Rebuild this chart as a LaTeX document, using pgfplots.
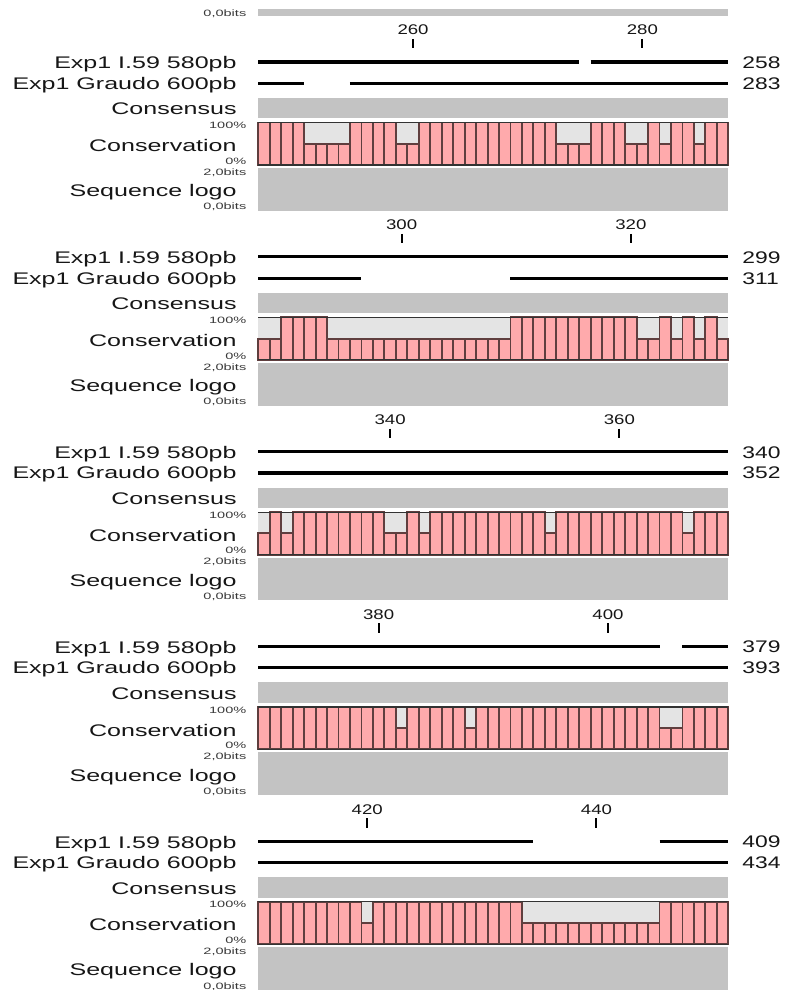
\documentclass[border=0pt]{standalone}
\usepackage{pgfplots}
\pgfplotsset{compat=1.18}
\usepackage{pgfplotstable}
\usepackage{graphicx}
\usepackage{fontspec}
\setmainfont{Liberation Sans}

\definecolor{consgrey}{RGB}{195,195,195}
\definecolor{consbg}{RGB}{228,228,228}
\definecolor{barpink}{RGB}{255,170,172}
\definecolor{bardark}{RGB}{95,62,62}
\definecolor{labtext}{RGB}{22,22,22}

% conservation (%) per alignment column
\pgfplotstableread[row sep=\\]{x c\\247 100\\248 100\\249 100\\250 100\\251 50\\252 50\\253 50\\254 50\\255 100\\256 100\\257 100\\258 100\\259 50\\260 50\\261 100\\262 100\\263 100\\264 100\\265 100\\266 100\\267 100\\268 100\\269 100\\270 100\\271 100\\272 100\\273 50\\274 50\\275 50\\276 100\\277 100\\278 100\\279 50\\280 50\\281 100\\282 50\\283 100\\284 100\\285 50\\286 100\\287 100\\}\consA
\pgfplotstableread[row sep=\\]{x c\\288 50\\289 50\\290 100\\291 100\\292 100\\293 100\\294 50\\295 50\\296 50\\297 50\\298 50\\299 50\\300 50\\301 50\\302 50\\303 50\\304 50\\305 50\\306 50\\307 50\\308 50\\309 50\\310 100\\311 100\\312 100\\313 100\\314 100\\315 100\\316 100\\317 100\\318 100\\319 100\\320 100\\321 50\\322 50\\323 100\\324 50\\325 100\\326 50\\327 100\\328 50\\}\consB
\pgfplotstableread[row sep=\\]{x c\\329 50\\330 100\\331 50\\332 100\\333 100\\334 100\\335 100\\336 100\\337 100\\338 100\\339 100\\340 50\\341 50\\342 100\\343 50\\344 100\\345 100\\346 100\\347 100\\348 100\\349 100\\350 100\\351 100\\352 100\\353 100\\354 50\\355 100\\356 100\\357 100\\358 100\\359 100\\360 100\\361 100\\362 100\\363 100\\364 100\\365 100\\366 50\\367 100\\368 100\\369 100\\}\consC
\pgfplotstableread[row sep=\\]{x c\\370 100\\371 100\\372 100\\373 100\\374 100\\375 100\\376 100\\377 100\\378 100\\379 100\\380 100\\381 100\\382 50\\383 100\\384 100\\385 100\\386 100\\387 100\\388 50\\389 100\\390 100\\391 100\\392 100\\393 100\\394 100\\395 100\\396 100\\397 100\\398 100\\399 100\\400 100\\401 100\\402 100\\403 100\\404 100\\405 50\\406 50\\407 100\\408 100\\409 100\\410 100\\}\consD
\pgfplotstableread[row sep=\\]{x c\\411 100\\412 100\\413 100\\414 100\\415 100\\416 100\\417 100\\418 100\\419 100\\420 50\\421 100\\422 100\\423 100\\424 100\\425 100\\426 100\\427 100\\428 100\\429 100\\430 100\\431 100\\432 100\\433 100\\434 50\\435 50\\436 50\\437 50\\438 50\\439 50\\440 50\\441 50\\442 50\\443 50\\444 50\\445 50\\446 100\\447 100\\448 100\\449 100\\450 100\\451 100\\}\consE

\pgfplotsset{
  blk/.style={width=393.5pt, scale only axis, hide axis, clip=false, ymin=-45.8, anchor=north west},
  bars/.style={ybar, bar width=1, fill=barpink, draw=bardark, line width=0.95pt},
  seq/.style={black, line width=1.6pt, unbounded coords=jump, mark=none},
}
\tikzset{
  lab/.style={anchor=base east, inner sep=0pt, text=labtext, font=\fontsize{8.4}{10}\selectfont},
  sml/.style={anchor=base east, inner sep=0pt, text=labtext!85, font=\fontsize{4.6}{5}\selectfont},
  rul/.style={anchor=base, inner sep=0pt, text=labtext, font=\fontsize{7}{8}\selectfont},
  rnum/.style={anchor=base west, inner sep=0pt, text=labtext, font=\fontsize{8.4}{10}\selectfont},
}
\newcommand\SLab[1]{\scalebox{1.49}[1]{#1}}
\newcommand\SSml[1]{\scalebox{1.58}[1]{#1}}
\newcommand\SRul[1]{\scalebox{1.33}[1]{#1}}
\newcommand\SNum[1]{\scalebox{1.36}[1]{#1}}

\newcommand\blockbg[1]{%
  \fill[consgrey] (axis cs:{#1-0.5},46.5) rectangle (axis cs:{#1+40.5},67);
  \fill[consbg] (axis cs:{#1-0.5},0) rectangle (axis cs:{#1+40.5},42.5);
  \fill[consgrey] (axis cs:{#1-0.5},-45.8) rectangle (axis cs:{#1+40.5},-3);
}
\newcommand\blocktext[5]{%
  \draw[black!80, line width=0.6pt] (axis cs:{#1-0.5},42.5) -- (axis cs:{#1+40.5},42.5);
  \draw[black!80, line width=0.6pt] (axis cs:{#1-0.5},0) -- (axis cs:{#1+40.5},0);
  \node[rul] at (axis cs:#2,130) {\SRul{#2}};
  \node[rul] at (axis cs:#3,130) {\SRul{#3}};
  \draw[black, line width=1pt] (axis cs:#2,126) -- (axis cs:#2,116.7);
  \draw[black, line width=1pt] (axis cs:#3,126) -- (axis cs:#3,116.7);
  \node[lab] at (axis cs:{#1-2.358},96) {\SLab{Exp1 I.59 580pb}};
  \node[lab] at (axis cs:{#1-2.358},75.7) {\SLab{Exp1 Graudo 600pb}};
  \node[lab] at (axis cs:{#1-2.358},50) {\SLab{Consensus}};
  \node[lab] at (axis cs:{#1-2.358},13.3) {\SLab{Conservation}};
  \node[lab] at (axis cs:{#1-2.358},-31.7) {\SLab{Sequence logo}};
  \node[sml] at (axis cs:{#1-1.512},36.3) {\SSml{100\%}};
  \node[sml] at (axis cs:{#1-1.512},0.7) {\SSml{0\%}};
  \node[sml] at (axis cs:{#1-1.512},-10.3) {\SSml{2,0bits}};
  \node[sml] at (axis cs:{#1-1.512},-45) {\SSml{0,0bits}};
  \node[rnum] at (axis cs:{#1+41.70},96.5) {\SNum{#4}};
  \node[rnum] at (axis cs:{#1+41.70},75.8) {\SNum{#5}};
}

\begin{document}
\begin{tikzpicture}
% ---------- block 1 : columns 247-287 ----------
\begin{axis}[blk, xmin=223.97, xmax=292.62, ymax=165, height=105.4pt, at={(0pt,0pt)}]
  \fill[consgrey] (axis cs:246.5,149) rectangle (axis cs:287.5,156);
  \node[sml] at (axis cs:245.488,148.5) {\SSml{0,0bits}};
  \blockbg{247}
  \addplot[bars] table[x=x, y expr=0.425*\thisrow{c}] {\consA};
  \addplot[seq] coordinates {(246.5,103) (274.5,103) (275,nan) (275.5,103) (287.5,103)};
  \addplot[seq] coordinates {(246.5,81.6) (250.5,81.6) (252,nan) (254.5,81.6) (287.5,81.6)};
  \blocktext{247}{260}{280}{258}{283}
\end{axis}
% ---------- block 2 : columns 288-328 ----------
\begin{axis}[blk, xmin=264.97, xmax=333.62, ymax=149, height=97.4pt, at={(0pt,-105.4pt)}]
  \blockbg{288}
  \addplot[bars] table[x=x, y expr=0.425*\thisrow{c}] {\consB};
  \addplot[seq] coordinates {(287.5,103) (328.5,103)};
  \addplot[seq] coordinates {(287.5,81.6) (296.5,81.6) (300,nan) (309.5,81.6) (328.5,81.6)};
  \blocktext{288}{300}{320}{299}{311}
\end{axis}
% ---------- block 3 : columns 329-369 ----------
\begin{axis}[blk, xmin=305.97, xmax=374.62, ymax=149, height=97.4pt, at={(0pt,-202.8pt)}]
  \blockbg{329}
  \addplot[bars] table[x=x, y expr=0.425*\thisrow{c}] {\consC};
  \addplot[seq] coordinates {(328.5,103) (369.5,103)};
  \addplot[seq] coordinates {(328.5,81.6) (369.5,81.6)};
  \blocktext{329}{340}{360}{340}{352}
\end{axis}
% ---------- block 4 : columns 370-410 ----------
\begin{axis}[blk, xmin=346.97, xmax=415.62, ymax=149, height=97.4pt, at={(0pt,-300.2pt)}]
  \blockbg{370}
  \addplot[bars] table[x=x, y expr=0.425*\thisrow{c}] {\consD};
  \addplot[seq] coordinates {(369.5,103) (404.5,103) (405.5,nan) (406.5,103) (410.5,103)};
  \addplot[seq] coordinates {(369.5,81.6) (410.5,81.6)};
  \blocktext{370}{380}{400}{379}{393}
\end{axis}
% ---------- block 5 : columns 411-451 ----------
\begin{axis}[blk, xmin=387.97, xmax=456.62, ymax=149, height=97.4pt, at={(0pt,-397.6pt)}]
  \blockbg{411}
  \addplot[bars] table[x=x, y expr=0.425*\thisrow{c}] {\consE};
  \addplot[seq] coordinates {(410.5,103) (434.5,103) (440,nan) (445.5,103) (451.5,103)};
  \addplot[seq] coordinates {(410.5,81.6) (451.5,81.6)};
  \blocktext{411}{420}{440}{409}{434}
\end{axis}
\pgfresetboundingbox
\path (0pt,0pt) rectangle (393.5pt,-495pt);
\end{tikzpicture}
\end{document}
